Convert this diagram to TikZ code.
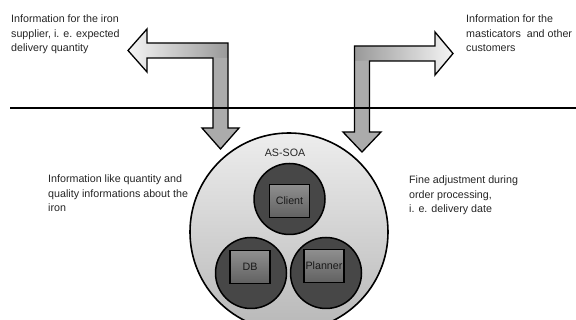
\documentclass[tikz,border=0pt]{standalone}
\usepackage{fontspec}
\setmainfont{Liberation Sans}
\begin{document}
\begin{tikzpicture}[x=1pt,y=-1pt,
  txt/.style={font=\fontsize{10.7}{14.5}\selectfont, text=black!85},
  lbl/.style={txt, inner sep=0, align=left, anchor=north west},
  blkline/.style={draw=black, line width=1.3pt, line join=miter},
  outer/.style={circle, draw=black, line width=1.6pt, top color=black!7, bottom color=black!28, minimum size=198pt, inner sep=0},
  innerc/.style={circle, draw=black, line width=1.5pt, fill=black!72, minimum size=71pt, inner sep=0},
  comp/.style={txt, text=black!90, draw=black, line width=1.8pt, top color=black!44, bottom color=black!62, minimum width=40pt, minimum height=33pt, inner sep=0},
]
\useasboundingbox (0,0) rectangle (576,320);
\fill[white] (0,0) rectangle (576,320);
\clip (0,0) rectangle (576,320);

% AS-SOA circle and components
\node[outer] (soa) at (289,232) {};
\node[txt] (soalbl) at (285,153) {AS-SOA};
\node[innerc] (cc) at (289.5,199) {};
\node[innerc] (dc) at (251,273) {};
\node[innerc] (pc) at (326,273) {};
\node[comp] (client) at (289.5,201) {Client};
\node[comp] (db) at (250,267) {DB};
\node[comp] (planner) at (324,266) {Planner};

% left L-arrow
\shade[left color=black!4, right color=black!40]
  (128,50.5) -- (147,29) -- (147,43) -- (228,43) -- (228,58) -- (147,58) -- (147,72) -- cycle;
\fill[black!33] (213,58) -- (228,58) -- (228,128) -- (239,128) -- (220.5,149) -- (202,128) -- (213,128) -- cycle;
\draw[blkline] (128,50.5) -- (147,29) -- (147,43) -- (228,43) -- (228,128) -- (239,128)
  -- (220.5,149) -- (202,128) -- (213,128) -- (213,58) -- (147,58) -- (147,72) -- cycle;

% right L-arrow
\shade[left color=black!40, right color=black!4]
  (354.5,46) -- (435,46) -- (435,32) -- (453,53.5) -- (435,75) -- (435,61) -- (354.5,61) -- cycle;
\fill[black!33] (354.5,61) -- (369.5,61) -- (369.5,132) -- (381,132) -- (362,152) -- (343,132) -- (354.5,132) -- cycle;
\draw[blkline] (354.5,46) -- (435,46) -- (435,32) -- (453,53.5) -- (435,75) -- (435,61)
  -- (369.5,61) -- (369.5,132) -- (381,132) -- (362,152) -- (343,132) -- (354.5,132) -- cycle;

% separator line
\coordinate (sl) at (10,108);
\coordinate (sr) at (576,108);
\draw[line width=1.3pt] (sl) -- (sr);

% texts
\node[lbl] (t1) at (11,15) {Information for the iron\\supplier, i. e. expected\\delivery quantity};
\node[lbl] (t2) at (466,15) {Information for the\\masticators\ \ and other\\customers};
\node[lbl] (t3) at (48,175) {Information like quantity and\\quality informations about the\\iron};
\node[lbl] (t4) at (409,176) {Fine adjustment during\\order processing,\\i. e. delivery date};
\end{tikzpicture}
\end{document}
